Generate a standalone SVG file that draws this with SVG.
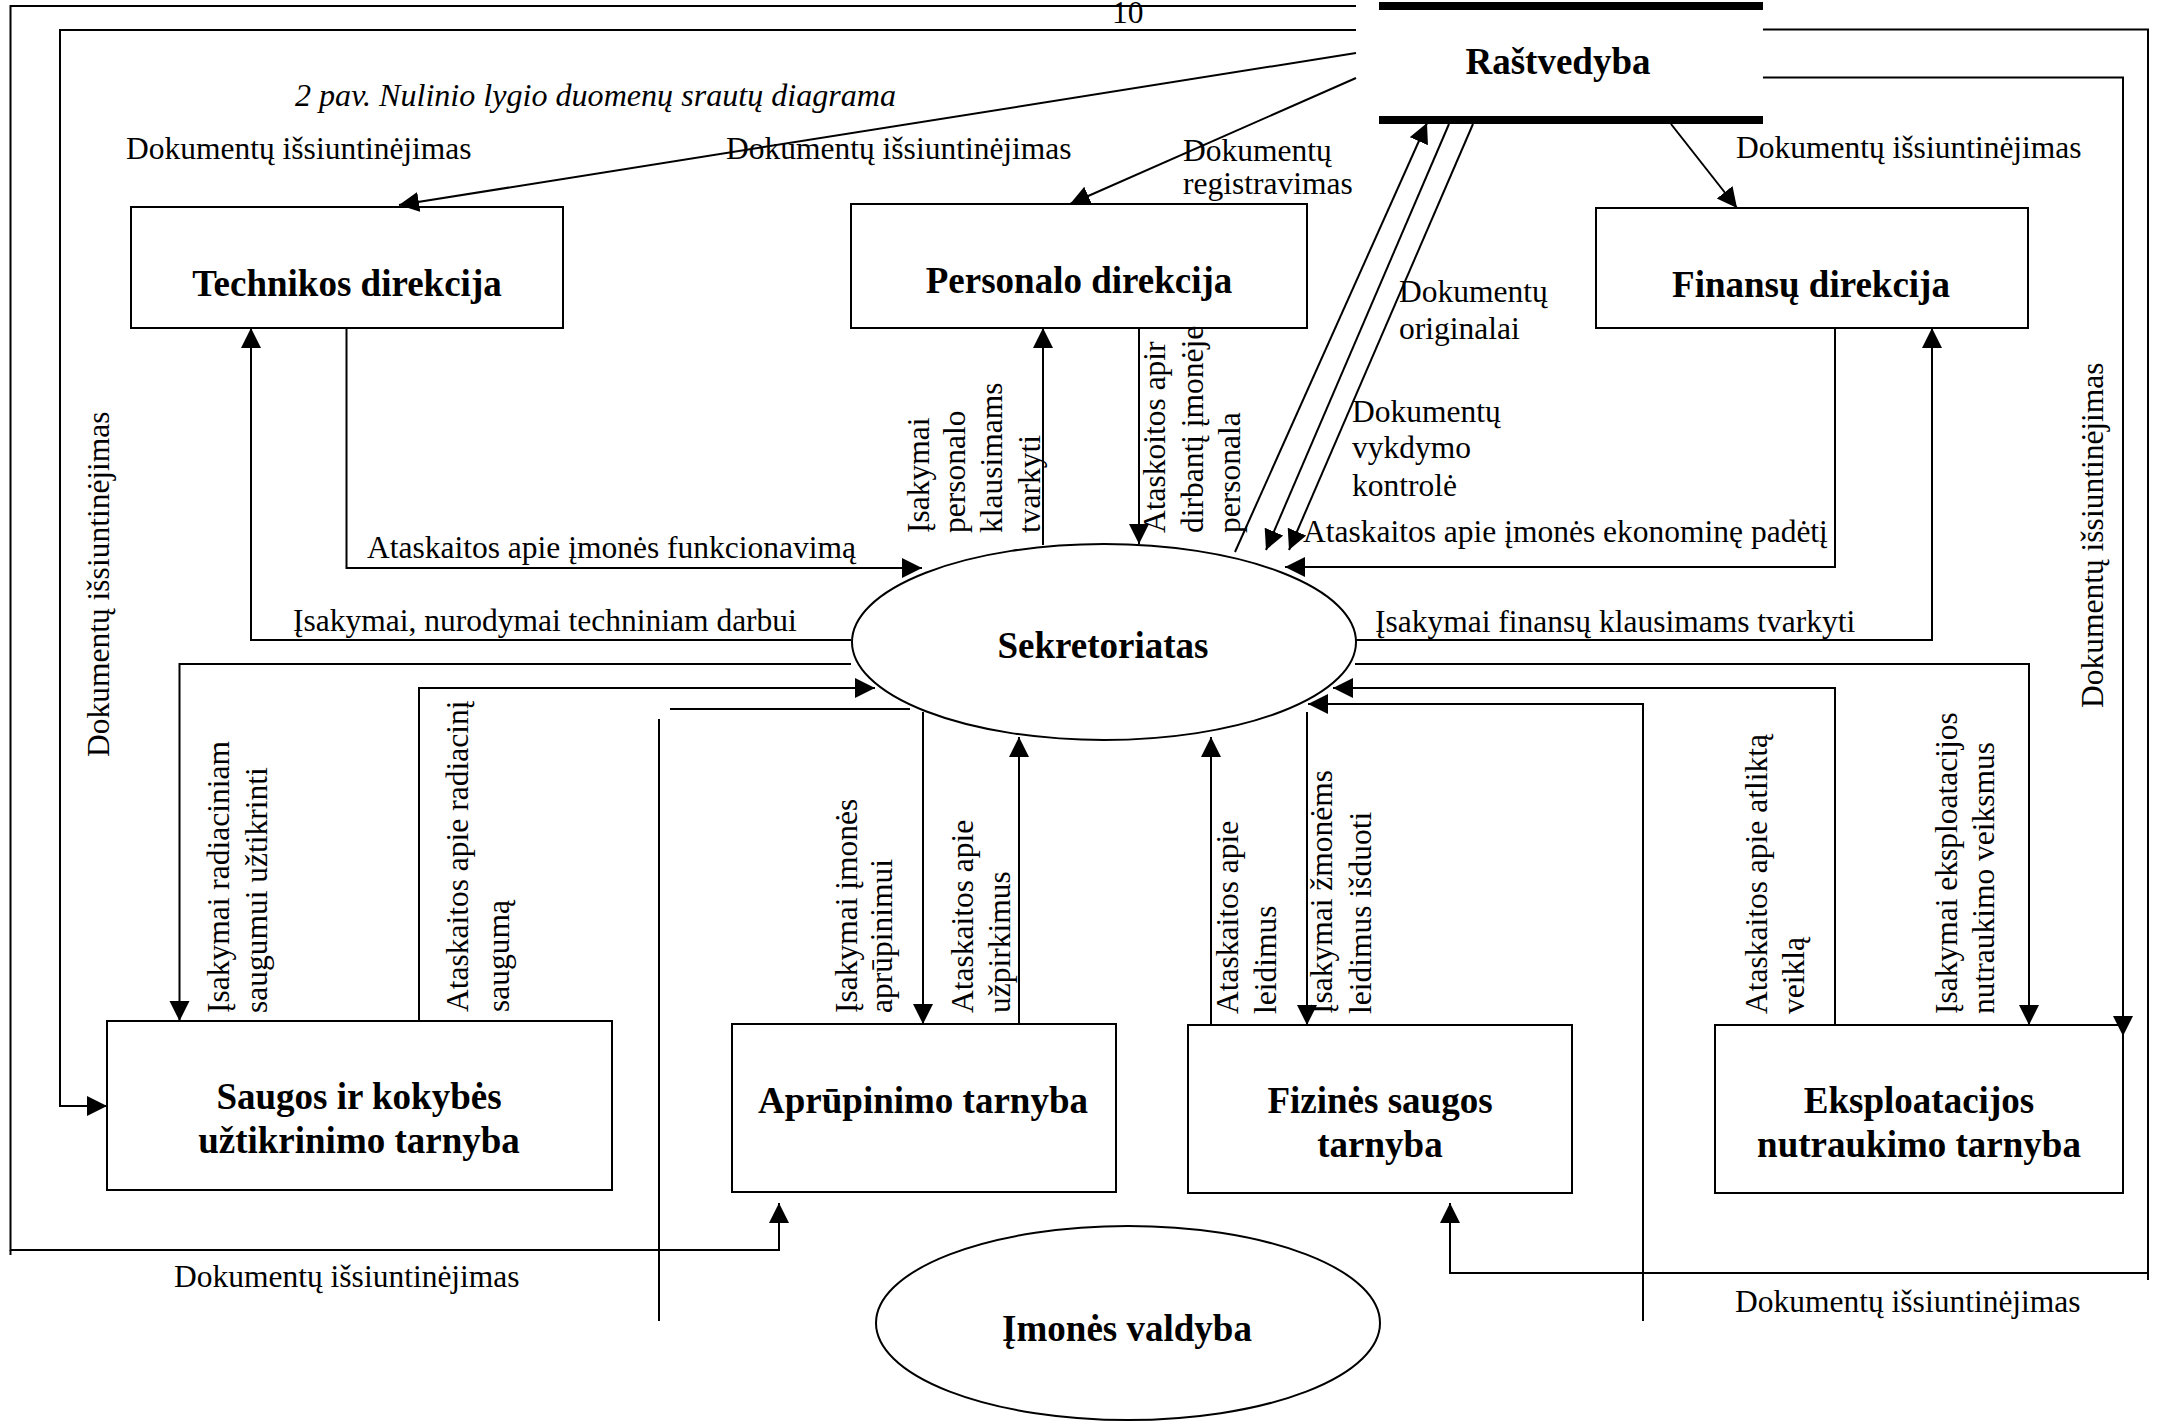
<svg xmlns="http://www.w3.org/2000/svg" width="2157" height="1422" viewBox="0 0 2157 1422">
  <style>
    .t { font-family: 'Liberation Serif', 'Times New Roman', serif; font-size: 31.5px; fill: #000; }
    .it { font-style: italic; }
    .nt { font-family: 'Liberation Serif', 'Times New Roman', serif; font-size: 37px; font-weight: bold; text-anchor: middle; fill: #000; }
    .box { fill: #fff; stroke: #000; stroke-width: 2; }
    .ln { fill: none; stroke: #000; stroke-width: 2; }
    .a { marker-end: url(#ah); }
  </style>
  <defs>
    <marker id="ah" markerUnits="userSpaceOnUse" markerWidth="21" markerHeight="21" refX="20" refY="10" orient="auto">
      <path d="M0,0 L20,10 L0,20 Z" fill="#000"/>
    </marker>
  </defs>

  <rect width="2157" height="1422" fill="#fff"/>

  <!-- page number -->
  <text class="t" x="1112" y="23">10</text>

  <!-- caption -->
  <text class="t it" x="295" y="106" textLength="601" lengthAdjust="spacingAndGlyphs">2 pav. Nulinio lygio duomenų srautų diagrama</text>

  <!-- nodes -->
  <g id="rastvedyba">
    <rect x="1379" y="2" width="384" height="8" fill="#000"/>
    <rect x="1379" y="116" width="384" height="8" fill="#000"/>
    <text class="nt" x="1558" y="74">Raštvedyba</text>
  </g>
  <g id="technikos-direkcija">
    <rect class="box" x="131" y="207" width="432" height="121"/>
    <text class="nt" x="347" y="296">Technikos direkcija</text>
  </g>
  <g id="personalo-direkcija">
    <rect class="box" x="851" y="204" width="456" height="124"/>
    <text class="nt" x="1079" y="293">Personalo direkcija</text>
  </g>
  <g id="finansu-direkcija">
    <rect class="box" x="1596" y="208" width="432" height="120"/>
    <text class="nt" x="1811" y="297">Finansų direkcija</text>
  </g>
  <g id="sekretoriatas">
    <ellipse class="box" cx="1104" cy="642" rx="252" ry="98"/>
    <text class="nt" x="1103" y="658">Sekretoriatas</text>
  </g>
  <g id="saugos-tarnyba">
    <rect class="box" x="107" y="1021" width="505" height="169"/>
    <text class="nt" x="359" y="1109">Saugos ir kokybės</text>
    <text class="nt" x="359" y="1153">užtikrinimo tarnyba</text>
  </g>
  <g id="aprupinimo-tarnyba">
    <rect class="box" x="732" y="1024" width="384" height="168"/>
    <text class="nt" x="923" y="1113">Aprūpinimo tarnyba</text>
  </g>
  <g id="fizines-saugos-tarnyba">
    <rect class="box" x="1188" y="1025" width="384" height="168"/>
    <text class="nt" x="1380" y="1113">Fizinės saugos</text>
    <text class="nt" x="1380" y="1157">tarnyba</text>
  </g>
  <g id="eksploatacijos-tarnyba">
    <rect class="box" x="1715" y="1025" width="408" height="168"/>
    <text class="nt" x="1919" y="1113">Eksploatacijos</text>
    <text class="nt" x="1919" y="1157">nutraukimo tarnyba</text>
  </g>
  <g id="imones-valdyba">
    <ellipse class="box" cx="1128" cy="1323" rx="252" ry="97"/>
    <text class="nt" x="1127" y="1341">Įmonės valdyba</text>
  </g>

  <!-- connectors -->
  <g id="connectors">
    <!-- outer document loops -->
    <path class="ln a" d="M1356,6 H10.5 V1250 H779 V1203"/>
    <path class="ln" d="M10.5,1250 V1255"/>
    <path class="ln a" d="M1356,30 H60 V1106 H107"/>
    <path class="ln" d="M1763,29.5 H2148 V1280"/>
    <path class="ln a" d="M2148,1273 H1450 V1203"/>
    <path class="ln a" d="M1763,77.5 H2123 V1036"/>

    <!-- Raštvedyba distribution -->
    <path class="ln a" d="M1356,53 L399,205"/>
    <path class="ln a" d="M1356,78 L1070,204"/>
    <path class="ln a" d="M1671,124 L1737,208"/>
    <path class="ln a" d="M1235,552 L1427,123"/>
    <path class="ln a" d="M1449,124 L1266,550"/>
    <path class="ln a" d="M1473,124 L1289,550"/>

    <!-- directorates -->
    <path class="ln a" d="M346.5,328 V568 H922"/>
    <path class="ln a" d="M851,640 H251 V328"/>
    <path class="ln a" d="M1043,545 V328"/>
    <path class="ln a" d="M1139,328 V544"/>
    <path class="ln a" d="M1835,328 V567 H1285"/>
    <path class="ln a" d="M1356,640 H1932 V328"/>

    <!-- services -->
    <path class="ln a" d="M851,664 H179.5 V1021"/>
    <path class="ln a" d="M419,1021 V688 H875"/>
    <path class="ln" d="M670,709 H910"/>
    <path class="ln" d="M659,719 V1321"/>
    <path class="ln a" d="M923,712 V1024"/>
    <path class="ln a" d="M1019,1024 V737"/>
    <path class="ln a" d="M1211,1025 V737"/>
    <path class="ln a" d="M1307,712 V1025"/>
    <path class="ln a" d="M1355,664 H2029 V1025"/>
    <path class="ln a" d="M1835,1025 V688 H1333"/>
    <path class="ln a" d="M1643,1321 V704 H1308"/>
  </g>

  <!-- flow labels -->
  <g id="flow-labels">
    <text class="t" x="126" y="159">Dokumentų išsiuntinėjimas</text>
    <text class="t" x="726" y="159">Dokumentų išsiuntinėjimas</text>
    <text class="t" x="1736" y="158">Dokumentų išsiuntinėjimas</text>
    <text class="t" x="1183" y="161">Dokumentų</text>
    <text class="t" x="1183" y="194">registravimas</text>
    <text class="t" x="1399" y="302">Dokumentų</text>
    <text class="t" x="1399" y="339">originalai</text>
    <text class="t" x="1352" y="422">Dokumentų</text>
    <text class="t" x="1352" y="458">vykdymo</text>
    <text class="t" x="1352" y="496">kontrolė</text>
    <text class="t" x="1303" y="542">Ataskaitos apie įmonės ekonominę padėtį</text>
    <text class="t" x="367" y="558">Ataskaitos apie įmonės funkcionavimą</text>
    <text class="t" x="293" y="631">Įsakymai, nurodymai techniniam darbui</text>
    <text class="t" x="1375" y="632">Įsakymai finansų klausimams tvarkyti</text>
    <text class="t" x="174" y="1287">Dokumentų išsiuntinėjimas</text>
    <text class="t" x="1735" y="1312">Dokumentų išsiuntinėjimas</text>

    <text class="t" transform="translate(109,757) rotate(-90)">Dokumentų išsiuntinėjimas</text>
    <text class="t" transform="translate(2103,708) rotate(-90)">Dokumentų išsiuntinėjimas</text>

    <text class="t" transform="translate(929,533) rotate(-90)">Įsakymai</text>
    <text class="t" transform="translate(965,533) rotate(-90)">personalo</text>
    <text class="t" transform="translate(1002,533) rotate(-90)">klausimams</text>
    <text class="t" transform="translate(1040,533) rotate(-90)">tvarkyti</text>

    <text class="t" transform="translate(1165,533) rotate(-90)">Ataskoitos apir</text>
    <text class="t" transform="translate(1203,533) rotate(-90)">dirbantį įmonėje</text>
    <text class="t" transform="translate(1240,533) rotate(-90)">personala</text>

    <text class="t" transform="translate(229,1013) rotate(-90)">Įsakymai radiaciniam</text>
    <text class="t" transform="translate(267,1013) rotate(-90)">saugumui užtikrinti</text>
    <text class="t" transform="translate(468,1012) rotate(-90)">Ataskaitos apie radiacinį</text>
    <text class="t" transform="translate(509,1012) rotate(-90)">saugumą</text>

    <text class="t" transform="translate(857,1013) rotate(-90)">Įsakymai įmonės</text>
    <text class="t" transform="translate(892,1013) rotate(-90)">aprūpinimui</text>
    <text class="t" transform="translate(973,1013) rotate(-90)">Ataskaitos apie</text>
    <text class="t" transform="translate(1010,1013) rotate(-90)">užpirkimus</text>

    <text class="t" transform="translate(1238,1014) rotate(-90)">Ataskaitos apie</text>
    <text class="t" transform="translate(1276,1014) rotate(-90)">leidimus</text>
    <text class="t" transform="translate(1332,1014) rotate(-90)">Įsakymai žmonėms</text>
    <text class="t" transform="translate(1371,1014) rotate(-90)">leidimus išduoti</text>

    <text class="t" transform="translate(1767,1014) rotate(-90)">Ataskaitos apie atliktą</text>
    <text class="t" transform="translate(1804,1014) rotate(-90)">veiklą</text>
    <text class="t" transform="translate(1957,1014) rotate(-90)">Įsakymai eksploatacijos</text>
    <text class="t" transform="translate(1994,1014) rotate(-90)">nutraukimo veiksmus</text>
  </g>
</svg>
